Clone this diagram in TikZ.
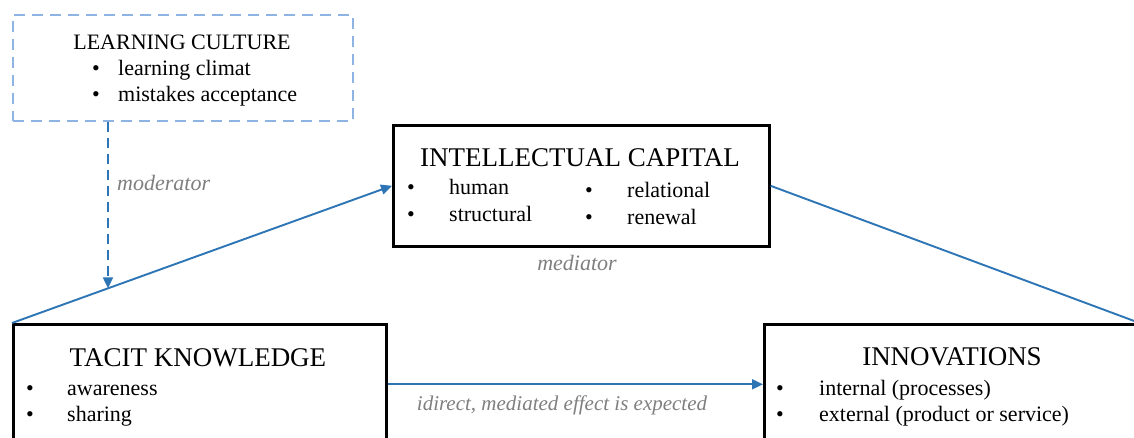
\documentclass[tikz,border=0pt]{standalone}
\usepackage{fontspec}
\setmainfont{Liberation Serif}
\usetikzlibrary{arrows.meta,calc}
\definecolor{linkblue}{HTML}{2E75B6}
\definecolor{lightblue}{HTML}{8EB4E3}
\definecolor{labelgray}{HTML}{7F7F7F}
\begin{document}
\begin{tikzpicture}[x=1pt,y=-1pt,
  box/.style={draw=black,line width=2.6pt,inner sep=0pt,anchor=north west},
  dashbox/.style={draw=lightblue,line width=1.8pt,dash pattern=on 11pt off 7pt,inner sep=0pt,anchor=north west},
  bigtitle/.style={anchor=base,inner sep=0pt,font=\fontsize{27}{32}\selectfont},
  smalltitle/.style={anchor=base,inner sep=0pt,font=\fontsize{22}{26}\selectfont},
  item/.style={anchor=base west,inner sep=0pt,font=\fontsize{22}{26}\selectfont},
  bul/.style={anchor=base,inner sep=0pt,font=\fontsize{22}{26}\selectfont},
  lbl/.style={inner sep=0pt,text=labelgray,font=\fontsize{22}{26}\selectfont\itshape},
  link/.style={draw=linkblue,line width=1.9pt},
  tip/.style={-{Triangle[length=11pt,width=10pt]}},
  dashlink/.style={draw=linkblue,line width=1.9pt,dash pattern=on 10pt off 6pt}
]
\useasboundingbox (0,0) rectangle (1134,438);
\fill[white] (0,0) rectangle (1134,438);
\clip (0,0) rectangle (1134,438);

% boxes
\node[dashbox,minimum width=340pt,minimum height=106pt] (lc) at (12,14) {};
\node[box,minimum width=376pt,minimum height=121pt] (ic) at (392,124) {};
\node[box,minimum width=373pt,minimum height=120pt] (tk) at (12,323) {};
\node[box,minimum width=374pt,minimum height=120pt] (inn) at (763,323) {};

% learning culture text
\node[smalltitle] (lct) at (182,50) {LEARNING CULTURE};
\node[bul] (lcb1) at (96,76) {•};
\node[item] (lci1) at (118,76) {learning climat};
\node[bul] (lcb2) at (96,102) {•};
\node[item] (lci2) at (118,102) {mistakes acceptance};

% intellectual capital text
\node[bigtitle] (ict) at (580,167) {INTELLECTUAL CAPITAL};
\node[bul] (icb1) at (411,195) {•};
\node[item] (ici1) at (449,195) {human};
\node[bul] (icb2) at (411,222) {•};
\node[item] (ici2) at (449,222) {structural};
\node[bul] (icb3) at (589,198) {•};
\node[item] (ici3) at (627,198) {relational};
\node[bul] (icb4) at (589,225) {•};
\node[item] (ici4) at (627,225) {renewal};

% tacit knowledge text
\node[bigtitle] (tkt) at (198,366) {TACIT KNOWLEDGE};
\node[bul] (tkb1) at (30,395) {•};
\node[item] (tki1) at (67,395) {awareness};
\node[bul] (tkb2) at (30,421) {•};
\node[item] (tki2) at (67,421) {sharing};

% innovations text
\node[bigtitle] (innt) at (952,365) {INNOVATIONS};
\node[bul] (innb1) at (780,395) {•};
\node[item] (inni1) at (819,395) {internal (processes)};
\node[bul] (innb2) at (780,421) {•};
\node[item] (inni2) at (819,421) {external (product or service)};

% connectors
\draw[link,tip] (tk.north west) -- (ic.west);
\draw[link] (ic.east) -- (inn.north east);
\draw[link,tip] (tk.east) -- (inn.west);
\coordinate (m) at ($(tk.north west)!0.2526!(ic.west)$);
\draw[dashlink,tip] (lc.south -| m) -- (m);

% labels
\node[lbl,anchor=base west] (mod) at (117,191) {moderator};
\node[lbl,anchor=base] (med) at (577,270) {mediator};
\node[lbl,anchor=base,font=\fontsize{21}{25}\selectfont\itshape] (eff) at (562,410) {idirect, mediated effect is expected};
\end{tikzpicture}
\end{document}
